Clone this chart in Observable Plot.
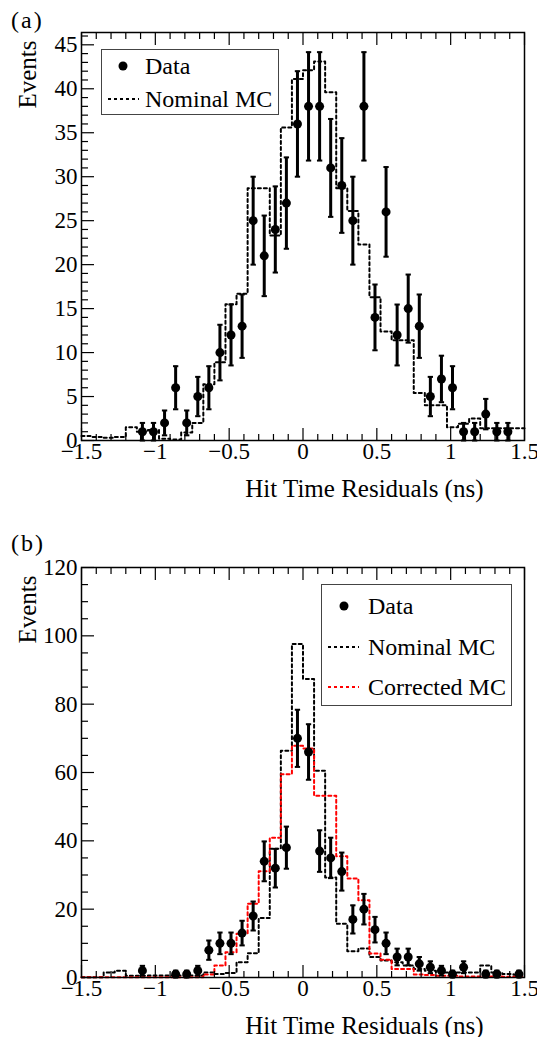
<!DOCTYPE html>
<html>
<head>
<meta charset="utf-8">
<script src="https://cdn.jsdelivr.net/npm/d3@7"></script>
<script src="https://cdn.jsdelivr.net/npm/@observablehq/plot@0.6"></script>
<style>
  body { margin: 0; background: #fff; }
  #wrap { position: relative; width: 537px; height: 1037px; font-family: "Liberation Serif", "Times New Roman", Times, serif; color: #000; }
  .panel { position: absolute; left: 0; }
  .tag { position: absolute; left: 11px; font-size: 24px; line-height: 1; letter-spacing: 2px; }
  .legend { position: absolute; border: 1.5px solid #444; background: #fff; box-sizing: border-box; }
  .legend span { position: absolute; font-size: 24px; line-height: 1; transform: translateY(-50%); white-space: nowrap; }
  .legend svg { position: absolute; left: 0; top: 0; overflow: visible; }
  svg text { font-family: "Liberation Serif", "Times New Roman", Times, serif; }
</style>
</head>
<body>
<div id="wrap"></div>
<script>
// ---- data ----
const binLow = [-1.5, -1.425, -1.35, -1.275, -1.2, -1.125, -1.05, -0.975, -0.9, -0.825,
                -0.75, -0.675, -0.6, -0.525, -0.45, -0.375, -0.3, -0.225, -0.15, -0.075,
                0, 0.075, 0.15, 0.225, 0.3, 0.375, 0.45, 0.525, 0.6, 0.675,
                0.75, 0.825, 0.9, 0.975, 1.05, 1.125, 1.2, 1.275, 1.35, 1.425];
const binWidth = 0.075;

// panel (a)
const dataA = [0, 0, 0, 0, 0, 1, 1, 2, 6, 2,
               5, 6, 10, 12, 13, 25, 21, 24, 27, 36,
               38, 38, 31, 29, 25, 38, 14, 26, 12, 15,
               13, 5, 7, 6, 1, 1, 3, 1, 1, 0];
const nominalA = [0.5, 0.4, 0.3, 0.4, 1.5, 1.0, 1.2, 0.2, 0.1, 0.9,
                  2.0, 6.4, 8.9, 15.5, 16.7, 28.7, 28.7, 23.3, 35.6, 41.1,
                  42.1, 43.1, 39.6, 28.7, 26.1, 22.3, 16.3, 12.4, 11.4, 11.4,
                  5.4, 4.0, 4.0, 1.5, 1.9, 2.5, 1.4, 1.4, 1.4, 1.4];

// panel (b)
const dataB = [0, 0, 0, 0, 0, 2, 0, 0, 1, 1,
               2, 8, 10, 10, 13, 18, 34, 32, 38, 70,
               66, 37, 35, 31, 17, 20, 14, 10, 6, 6,
               4, 3, 2, 1, 3, 0, 1, 1, 0, 1];
const nominalB = [0.1, 0.1, 1.5, 2.0, 0.5, 0.5, 0.6, 0.6, 0.6, 0.6,
                  0.6, 1.5, 1.0, 1.3, 4.5, 7.1, 17.4, 37.7, 66.4, 97.6,
                  87.4, 60.5, 29.3, 15.7, 7.7, 8.5, 6.0, 5.0, 4.5, 3.5,
                  2.5, 2.0, 1.5, 1.5, 1.5, 1.5, 3.5, 1.5, 1.0, 0.8];
const correctedB = [0.1, 0.1, 0.1, 0.1, 0.1, 0.1, 0.1, 0.1, 0.1, 0.1,
                    0.1, 0.9, 3.5, 7.4, 12.8, 21.6, 31.1, 40.9, 59.5, 67.8,
                    67.0, 53.2, 53.2, 35.5, 29.0, 22.6, 7.0, 5.2, 2.5, 2.5,
                    0.9, 0.7, 0.5, 0.5, 0.3, 0.3, 0.3, 0.3, 0.2, 0.2];

// ticks
const xMajor = [-1.5, -1, -0.5, 0, 0.5, 1, 1.5];
const xMajorLabels = ["\u22121.5", "\u22121", "\u22120.5", "0", "0.5", "1", "1.5"];
const xMinor = [-1.4, -1.3, -1.2, -1.1, -0.9, -0.8, -0.7, -0.6, -0.4, -0.3, -0.2, -0.1,
                0.1, 0.2, 0.3, 0.4, 0.6, 0.7, 0.8, 0.9, 1.1, 1.2, 1.3, 1.4];
const yMajorA = [0, 5, 10, 15, 20, 25, 30, 35, 40, 45];
const yMinorA = [1, 2, 3, 4, 6, 7, 8, 9, 11, 12, 13, 14, 16, 17, 18, 19, 21, 22, 23, 24,
                 26, 27, 28, 29, 31, 32, 33, 34, 36, 37, 38, 39, 41, 42, 43, 44, 46];
const yMajorB = [0, 20, 40, 60, 80, 100, 120];
const yMinorB = [5, 10, 15, 25, 30, 35, 45, 50, 55, 65, 70, 75, 85, 90, 95, 105, 110, 115];

const xTitle = "Hit Time Residuals (ns)";
const yTitle = "Events";

const SERIF = '"Liberation Serif", "Times New Roman", Times, serif';

// ---- helpers ----
function steps(vals) {
  const out = [];
  binLow.forEach((x, i) => { out.push({x, y: vals[i]}); out.push({x: x + binWidth, y: vals[i]}); });
  return out;
}
function points(vals) {
  return binLow.map((x, i) => ({x: x + binWidth / 2, y: vals[i], e: Math.sqrt(vals[i])})).filter(d => d.y > 0);
}
const capSymbol = {draw(ctx, size) { const w = Math.sqrt(size) / 2; ctx.moveTo(-w, 0); ctx.lineTo(w, 0); }};
const xLabel = d => xMajorLabels[xMajor.indexOf(d)];

function panel({yDomain, yMajor, yMinor, hists, dataVals, height, marginTop}) {
  const pts = points(dataVals);
  return Plot.plot({
    width: 537, height, marginLeft: 81, marginRight: 13, marginTop, marginBottom: 60,
    style: {fontFamily: SERIF, fontSize: "22px", background: "transparent", overflow: "visible", color: "black"},
    x: {domain: [-1.5, 1.5]},
    y: {domain: yDomain},
    marks: [
      ...hists.map(h => Plot.lineY(steps(h.vals), {x: "x", y: "y", stroke: h.color, strokeWidth: 2, strokeDasharray: "3,3"})),
      Plot.ruleX(pts, {x: "x", y1: d => d.y - d.e, y2: d => d.y + d.e, stroke: "black", strokeWidth: 3}),
      Plot.dot(pts, {x: "x", y: d => d.y + d.e, symbol: capSymbol, r: 3, stroke: "black", strokeWidth: 2, fill: "none"}),
      Plot.dot(pts, {x: "x", y: d => Math.max(0, d.y - d.e), symbol: capSymbol, r: 3, stroke: "black", strokeWidth: 2, fill: "none"}),
      Plot.dot(pts, {x: "x", y: "y", r: 4.5, fill: "black"}),
      Plot.frame({stroke: "black", strokeWidth: 1.5}),
      Plot.axisX(xMajor, {anchor: "bottom", tickSize: 0, tickPadding: 2, label: null, tickFormat: xLabel, fontFamily: SERIF, fontSize: 23}),
      Plot.axisX(xMajor, {anchor: "bottom", tickSize: -12, text: null, label: null, strokeWidth: 1.2}),
      Plot.axisX(xMinor, {anchor: "bottom", tickSize: -6, text: null, label: null, strokeWidth: 1.2}),
      Plot.axisX(xMajor, {anchor: "top", tickSize: -12, text: null, label: null, strokeWidth: 1.2}),
      Plot.axisX(xMinor, {anchor: "top", tickSize: -6, text: null, label: null, strokeWidth: 1.2}),
      Plot.axisY(yMajor, {anchor: "left", tickSize: 0, tickPadding: 4, label: null, tickFormat: d => String(d), fontFamily: SERIF, fontSize: 23}),
      Plot.axisY(yMajor, {anchor: "left", tickSize: -13, text: null, label: null, strokeWidth: 1.2}),
      Plot.axisY(yMinor, {anchor: "left", tickSize: -7, text: null, label: null, strokeWidth: 1.2}),
      Plot.text([xTitle], {frameAnchor: "bottom-right", textAnchor: "end", lineAnchor: "bottom", dx: -41, dy: 56, fontSize: 25, fontFamily: SERIF}),
      Plot.text([yTitle], {frameAnchor: "top-left", rotate: -90, textAnchor: "end", lineAnchor: "bottom", dx: -46, dy: 8, fontSize: 25, fontFamily: SERIF})
    ]
  });
}

const wrap = document.getElementById("wrap");

const plotA = panel({yDomain: [0, 46.4], yMajor: yMajorA, yMinor: yMinorA,
  hists: [{vals: nominalA, color: "black"}], dataVals: dataA, height: 500, marginTop: 32});
plotA.classList.add("panel"); plotA.style.top = "0px";
wrap.appendChild(plotA);

const plotB = panel({yDomain: [0, 120], yMajor: yMajorB, yMinor: yMinorB,
  hists: [{vals: nominalB, color: "black"}, {vals: correctedB, color: "#ff0000"}], dataVals: dataB, height: 537, marginTop: 67});
plotB.classList.add("panel"); plotB.style.top = "500px";
wrap.appendChild(plotB);

// panel tags
const tagA = document.createElement("div"); tagA.className = "tag"; tagA.textContent = "(a)"; tagA.style.top = "8px"; wrap.appendChild(tagA);
const tagB = document.createElement("div"); tagB.className = "tag"; tagB.textContent = "(b)"; tagB.style.top = "531px"; wrap.appendChild(tagB);

// legends
function legend(box, entries) {
  const div = document.createElement("div");
  div.className = "legend";
  Object.assign(div.style, {left: box.left + "px", top: box.top + "px", width: box.width + "px", height: box.height + "px"});
  let svg = `<svg width="${box.width}" height="${box.height}">`;
  let html = "";
  for (const e of entries) {
    if (e.type === "dot") svg += `<circle cx="${e.mx}" cy="${e.y}" r="4.5" fill="black"/>`;
    else svg += `<line x1="${e.x1}" x2="${e.x2}" y1="${e.y}" y2="${e.y}" stroke="${e.color}" stroke-width="2" stroke-dasharray="3,3"/>`;
    html += `<span style="left:${box.textLeft}px;top:${e.y}px">${e.label}</span>`;
  }
  svg += `</svg>`;
  div.innerHTML = svg + html;
  wrap.appendChild(div);
}
legend({left: 101, top: 49, width: 178, height: 66, textLeft: 43}, [
  {type: "dot", mx: 21, y: 16, label: "Data"},
  {type: "line", x1: 6, x2: 37, y: 49, color: "black", label: "Nominal MC"}
]);
legend({left: 321, top: 584, width: 191, height: 122, textLeft: 46}, [
  {type: "dot", mx: 22, y: 21, label: "Data"},
  {type: "line", x1: 6, x2: 37, y: 62, color: "black", label: "Nominal MC"},
  {type: "line", x1: 6, x2: 37, y: 102, color: "#ff0000", label: "Corrected MC"}
]);
</script>
</body>
</html>
